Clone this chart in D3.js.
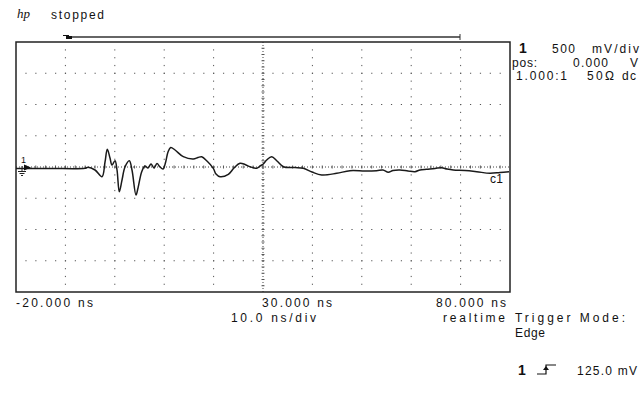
<!DOCTYPE html>
<html>
<head>
<meta charset="utf-8">
<script src="https://cdn.jsdelivr.net/npm/d3@7"></script>
<style>
  body { margin: 0; background: #fff; }
  svg text { font-family: "Liberation Sans", Arial, sans-serif; fill: #111; }
</style>
</head>
<body>
<div id="scope"></div>
<script>
// captured trace, channel 1 (time in ns, volts)
const timeNs = [-20, -13.1, -6.03, -5.43, -4.0, -2.59, -1.98, -1.52, -0.97, -0.57, 0.04, 0.45, 0.91, 1.46, 2.06,
  2.94, 3.48, 4.29, 4.70, 5.45, 6.11, 6.72, 7.33, 7.94, 8.54, 9.15, 9.76, 10.3, 10.77, 11.32, 12.19, 13.87,
  15.89, 16.84, 17.59, 18.66, 19.94, 20.49, 21.30, 22.98, 24.13, 25.34, 26.36, 27.37, 28.72, 29.39, 30.06,
  30.75, 31.76, 32.83, 34.11, 36.48, 38.16, 39.92, 41.88, 44.92, 47.61, 50.65, 53.02, 54.29, 55.36, 56.32,
  57.73, 59.35, 60.77, 61.78, 63.14, 64.82, 66.17, 67.25, 68.52, 70.89, 73.26, 75.95, 77.98, 79.8];
const voltsV = [-0.024, -0.024, -0.021, -0.005, -0.048, -0.155, 0.08, 0.283, 0.144, 0.032, 0.10, -0.048, -0.395, -0.208, 0,
  0.10, -0.048, -0.448, -0.336, -0.075, 0.016, -0.016, 0.048, -0.016, 0.056, 0, -0.032, 0.08, 0.24, 0.312, 0.272, 0.165,
  0.128, 0.152, 0.165, 0.096, -0.021, -0.112, -0.155, -0.117, -0.016, 0.059, 0.04, 0.005, -0.021, 0.016, 0.048,
  0.112, 0.165, 0.096, 0.005, -0.008, -0.021, -0.08, -0.128, -0.101, -0.059, -0.064, -0.059, -0.048, -0.085, -0.056,
  -0.048, -0.064, -0.075, -0.048, -0.037, -0.024, -0.011, -0.032, -0.048, -0.056, -0.075, -0.101, -0.088, -0.075];

const timeTicks = [-20, 30, 80];
const timeTickLabels = ["-20.000 ns", "30.000 ns", "80.000 ns"];

const width = 640, height = 394;
const svg = d3.select("#scope").append("svg")
  .attr("width", width)
  .attr("height", height);

const x = d3.scaleLinear().domain([-20, 80]).range([16, 510]);
const y = d3.scaleLinear().domain([-2, 2]).range([292, 42]);

// small helper for the fixed-width looking scope font
function label(px, py, str, w, size) {
  const t = svg.append("text").attr("x", px).attr("y", py)
    .style("font-size", (size || 12) + "px").text(str);
  if (w) t.attr("textLength", w).attr("lengthAdjust", "spacing");
  return t;
}

// grid: 10 horizontal divisions, 8 vertical
const xDivs = d3.range(-20, 81, 10);
const yDivs = d3.range(-2, 2.01, 0.5);

// dotted vertical grid lines (4 dots per division)
xDivs.slice(1, -1).filter(t => t !== 30).forEach(t => {
  svg.append("g").selectAll("rect")
    .data(d3.range(-2, 2.001, 0.125).slice(1, -1))
    .enter().append("rect")
    .attr("x", x(t) - 0.5).attr("y", d => y(d) - 0.5)
    .attr("width", 1).attr("height", 1.2)
    .attr("fill", "#555");
});

// dotted horizontal grid lines (5 dots per division)
yDivs.slice(1, -1).filter(v => v !== 0).forEach(v => {
  svg.append("g").selectAll("rect")
    .data(d3.range(-20, 80.001, 2).slice(1, -1))
    .enter().append("rect")
    .attr("x", d => x(d) - 0.5).attr("y", y(v) - 0.5)
    .attr("width", 1.2).attr("height", 1)
    .attr("fill", "#555");
});

// centre axes with fine ticks
svg.append("line")
  .attr("x1", x(-20)).attr("x2", x(80)).attr("y1", y(0)).attr("y2", y(0))
  .attr("stroke", "#444").attr("stroke-width", 1).attr("stroke-dasharray", "1,2");
svg.append("g").selectAll("line")
  .data(d3.range(-20, 80.001, 2).slice(1, -1))
  .enter().append("line")
  .attr("x1", d => x(d)).attr("x2", d => x(d))
  .attr("y1", y(0) - 1.5).attr("y2", y(0) + 1.5)
  .attr("stroke", "#555").attr("stroke-width", 1);
svg.append("line")
  .attr("x1", x(30)).attr("x2", x(30)).attr("y1", y(2)).attr("y2", y(-2))
  .attr("stroke", "#444").attr("stroke-width", 1).attr("stroke-dasharray", "1,2");
svg.append("g").selectAll("line")
  .data(d3.range(-2, 2.001, 0.1).slice(1, -1))
  .enter().append("line")
  .attr("x1", x(30) - 1.5).attr("x2", x(30) + 1.5)
  .attr("y1", d => y(d)).attr("y2", d => y(d))
  .attr("stroke", "#555").attr("stroke-width", 1);

// frame
svg.append("rect")
  .attr("x", x(-20)).attr("y", y(2))
  .attr("width", x(80) - x(-20)).attr("height", y(-2) - y(2))
  .attr("fill", "none").attr("stroke", "#222").attr("stroke-width", 1.5);

// trace
const trace = timeNs.map((t, i) => ({ t: t, v: voltsV[i] }));
const line = d3.line().x(d => x(d.t)).y(d => y(d.v)).curve(d3.curveCatmullRom.alpha(0.5));
svg.append("path")
  .datum(trace)
  .attr("d", line)
  .attr("fill", "none")
  .attr("stroke", "#1a1a1a")
  .attr("stroke-width", 1.5);

label(490, 183, "c1", 13);

// channel marker / ground symbol on the left
label(21, 163, "1", null, 9);
svg.append("path")
  .attr("d", `M24,${y(0) - 2.5} L31,${y(0) + 0.5} L24,${y(0) + 3.5} Z`)
  .attr("fill", "#111");
svg.append("line").attr("x1", 22).attr("x2", 22).attr("y1", y(0) - 1).attr("y2", y(0) + 4)
  .attr("stroke", "#222").attr("stroke-width", 1);
[0, 1, 2].forEach(k => {
  svg.append("line")
    .attr("x1", 18 + k * 1.5).attr("x2", 26 - k * 1.5)
    .attr("y1", y(0) + 4.5 + k * 2).attr("y2", y(0) + 4.5 + k * 2)
    .attr("stroke", "#222").attr("stroke-width", 1);
});

// trigger / delay bar above the graticule
svg.append("line")
  .attr("x1", 68).attr("x2", 460).attr("y1", 37).attr("y2", 37)
  .attr("stroke", "#333").attr("stroke-width", 1.3);
svg.append("line")
  .attr("x1", 460).attr("x2", 460).attr("y1", 34).attr("y2", 40)
  .attr("stroke", "#333").attr("stroke-width", 1);
svg.append("path")
  .attr("d", "M63,35 L69,35 L69,36 L72,36 L72,39 L66,39 L66,36 L63,36 Z")
  .attr("fill", "#111");

// header
svg.append("text").attr("x", 17).attr("y", 18)
  .style("font-family", "'Liberation Serif', serif").style("font-style", "italic")
  .style("font-size", "13px").text("hp");
label(51, 19, "stopped", 53);

// channel settings
label(519, 53, "1", null, 14).style("font-weight", "bold");
label(552, 53, "500", 23);
label(592, 53, "mV/div", 47);
label(512, 67, "pos:", 25);
label(573, 67, "0.000", 35);
label(630, 67, "V", 8);
label(516, 80, "1.000:1", 51);
label(587, 80, "50\u03a9", 27);
label(622, 80, "dc", 14);

// time axis labels
const tickWidths = [77, 70, 70];
timeTicks.forEach((t, i) => {
  const w = tickWidths[i];
  const left = i === 0 ? x(t) : i === 1 ? x(t) - 1 : x(t) - 4 - w;
  label(left, 307, timeTickLabels[i], w);
});
label(231, 322, "10.0 ns/div", 85);
label(443, 322, "realtime", 62);
label(515, 322, "Trigger Mode:", 110);
label(515, 337, "Edge", 30);

// trigger level
label(518, 375, "1", null, 14).style("font-weight", "bold");
svg.append("path")
  .attr("d", "M537,374 L546,374 L546,365 L556,365")
  .attr("fill", "none").attr("stroke", "#111").attr("stroke-width", 1.2);
svg.append("path").attr("d", "M543,370 L546,366 L549,370 Z").attr("fill", "#111");
label(577, 375, "125.0 mV", 60);
</script>
</body>
</html>
